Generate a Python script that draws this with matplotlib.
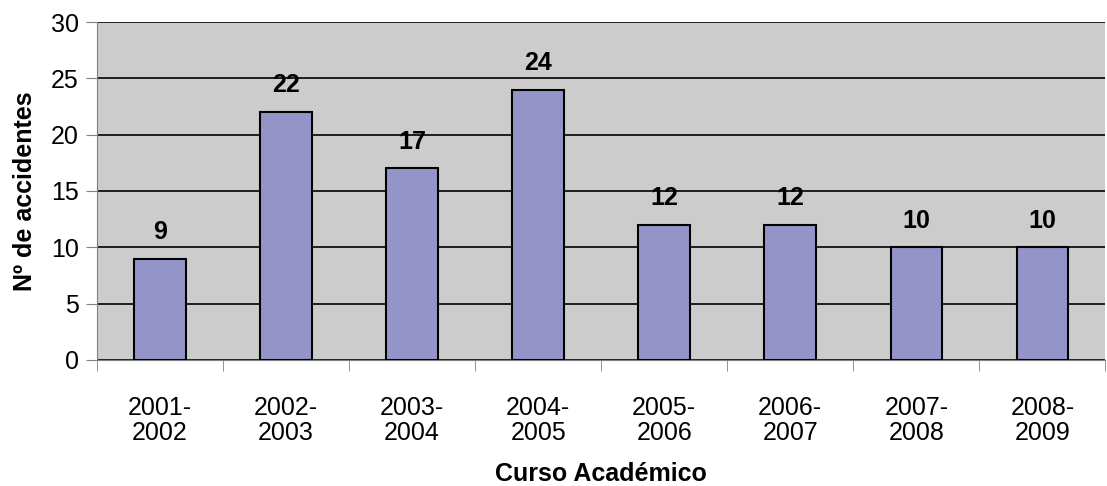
import matplotlib.pyplot as plt

plt.rcParams['font.family'] = ['Liberation Sans', 'DejaVu Sans']

cursos = ['2001-\n2002', '2002-\n2003', '2003-\n2004', '2004-\n2005',
          '2005-\n2006', '2006-\n2007', '2007-\n2008', '2008-\n2009']
accidentes = [9, 22, 17, 24, 12, 12, 10, 10]

fig = plt.figure(figsize=(11.07, 4.86), dpi=100)
ax = fig.add_axes([0.0876, 0.2593, 0.911, 0.6954])
ax.set_facecolor('#cccccc')

x = list(range(len(cursos)))
ax.bar(x, accidentes, width=0.41, color='#9494c8', edgecolor='black',
       linewidth=1.5, zorder=3)
for xi, v in zip(x, accidentes):
    ax.text(xi, v + 1.3, str(v), ha='center', va='bottom',
            fontsize=18, fontweight='bold')

ax.set_ylim(0, 30)
ax.set_xlim(-0.5, len(cursos) - 0.5)
ax.set_yticks(range(0, 31, 5))
ax.yaxis.grid(True, color='black', linewidth=1.2, zorder=1)
ax.set_axisbelow(True)

ax.set_xticks(x)
ax.set_xticklabels(cursos, fontsize=18, linespacing=1.05)
ax.set_xticks([i - 0.5 for i in range(len(cursos) + 1)], minor=True)
ax.tick_params(axis='x', which='major', length=0, pad=26)
ax.tick_params(axis='x', which='minor', length=8, color='gray')
ax.tick_params(axis='y', length=8, color='gray', labelsize=18, pad=5)

for s in ['top', 'right']:
    ax.spines[s].set_visible(False)
for s in ['left', 'bottom']:
    ax.spines[s].set_color('gray')

ax.set_ylabel('Nº de accidentes', fontsize=18, fontweight='bold', labelpad=10)
ax.set_xlabel('Curso Académico', fontsize=18, fontweight='bold', va='center')
ax.xaxis.set_label_coords(0.5, -0.337)

fig.savefig('out.png', dpi=100)
